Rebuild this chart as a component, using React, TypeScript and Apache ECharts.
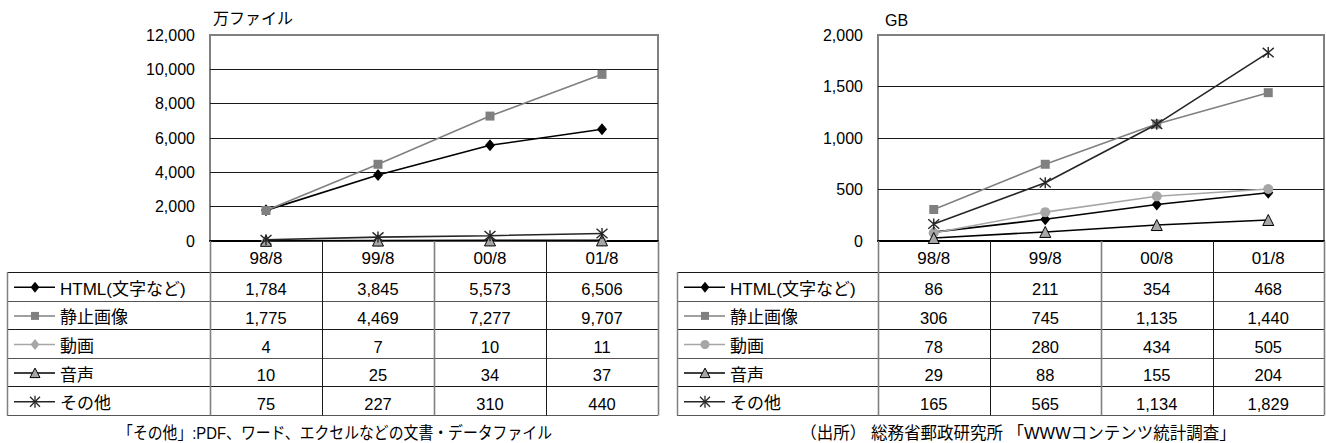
import React, { useEffect, useRef } from 'react';
import * as echarts from 'echarts';

const periods = ['98/8', '99/8', '00/8', '01/8'];
const kindNames = ['HTML(文字など)', '静止画像', '動画', '音声', 'その他'];

// ファイル数（万ファイル）
const filesHtml = [1784, 3845, 5573, 6506];
const filesImage = [1775, 4469, 7277, 9707];
const filesVideo = [4, 7, 10, 11];
const filesAudio = [10, 25, 34, 37];
const filesOther = [75, 227, 310, 440];

// データ量（GB）
const sizeHtml = [86, 211, 354, 468];
const sizeImage = [306, 745, 1135, 1440];
const sizeVideo = [78, 280, 434, 505];
const sizeAudio = [29, 88, 155, 204];
const sizeOther = [165, 565, 1134, 1829];

const filesUnit = '万ファイル';
const sizeUnit = 'GB';
const noteOther = '「その他」:PDF、ワード、エクセルなどの文書・データファイル';
const noteSource = '（出所） 総務省郵政研究所 「WWWコンテンツ統計調査」';

const FONT = "'Liberation Sans', Arial, 'Noto Sans CJK JP', sans-serif";

type Marker = 'diamond' | 'rect' | 'circle' | 'triangle' | 'asterisk';
interface Look {
  marker: Marker;
  line: string;
  fill: string;
  border: string;
  size: number;
}

const looksFor = (videoMarker: Marker): Look[] => [
  { marker: 'diamond', line: '#000000', fill: '#000000', border: '#000000', size: 11 },
  { marker: 'rect', line: '#808080', fill: '#808080', border: '#808080', size: 9 },
  { marker: videoMarker, line: '#a6a6a6', fill: '#a6a6a6', border: '#a6a6a6', size: videoMarker === 'circle' ? 10 : 11 },
  { marker: 'triangle', line: '#000000', fill: '#a6a6a6', border: '#000000', size: 11 },
  { marker: 'asterisk', line: '#262626', fill: '#262626', border: '#262626', size: 11 },
];

const ASTERISK = 'path://M0,0L12,12M12,0L0,12M6,-1L6,13';

interface Panel {
  unit: string;
  values: number[][];
  max: number;
  interval: number;
  gridLeft: number;
  gridWidth: number;
  tableLeft: number;
  looks: Look[];
  note: string;
  noteX: number;
  noteScale: number;
}

const panels: Panel[] = [
  {
    unit: filesUnit,
    values: [filesHtml, filesImage, filesVideo, filesAudio, filesOther],
    max: 12000,
    interval: 2000,
    gridLeft: 210,
    gridWidth: 448,
    tableLeft: 7,
    looks: looksFor('diamond'),
    note: noteOther,
    noteX: 335,
    noteScale: 0.9,
  },
  {
    unit: sizeUnit,
    values: [sizeHtml, sizeImage, sizeVideo, sizeAudio, sizeOther],
    max: 2000,
    interval: 500,
    gridLeft: 878,
    gridWidth: 446,
    tableLeft: 677,
    looks: looksFor('circle'),
    note: noteSource,
    noteX: 1018,
    noteScale: 1,
  },
];

const GRID_TOP = 35;
const GRID_HEIGHT = 206;
const ROW_TOP = 272;
const ROW_H = 28.6;

const fmt = (v: number) => v.toLocaleString('en-US');

function seriesSymbol(l: Look) {
  if (l.marker === 'asterisk') return ASTERISK;
  return l.marker;
}

function markerGraphic(l: Look, cx: number, cy: number): any {
  const s = l.size / 2;
  const base = { silent: true, z: 20 };
  switch (l.marker) {
    case 'diamond':
      return { type: 'polygon', ...base, shape: { points: [[cx, cy - s], [cx + s * 0.8, cy], [cx, cy + s], [cx - s * 0.8, cy]] }, style: { fill: l.fill } };
    case 'rect':
      return { type: 'rect', ...base, shape: { x: cx - 4, y: cy - 4, width: 8, height: 8 }, style: { fill: l.fill } };
    case 'circle':
      return { type: 'circle', ...base, shape: { cx, cy, r: 4.5 }, style: { fill: l.fill } };
    case 'triangle':
      return { type: 'polygon', ...base, shape: { points: [[cx, cy - 5], [cx + 5, cy + 4.5], [cx - 5, cy + 4.5]] }, style: { fill: l.fill, stroke: l.border, lineWidth: 1 } };
    default:
      return {
        type: 'group',
        ...base,
        children: [
          { type: 'line', shape: { x1: cx - 5, y1: cy - 5, x2: cx + 5, y2: cy + 5 }, style: { stroke: l.border, lineWidth: 1.3 } },
          { type: 'line', shape: { x1: cx + 5, y1: cy - 5, x2: cx - 5, y2: cy + 5 }, style: { stroke: l.border, lineWidth: 1.3 } },
          { type: 'line', shape: { x1: cx, y1: cy - 6, x2: cx, y2: cy + 6 }, style: { stroke: l.border, lineWidth: 1.3 } },
        ],
      };
  }
}

export default function App() {
  const ref = useRef<HTMLDivElement>(null);

  useEffect(() => {
    if (!ref.current) return;
    const chart = echarts.init(ref.current, undefined, { renderer: 'svg' });

    const grids = panels.map((p) => ({
      left: p.gridLeft,
      top: GRID_TOP,
      width: p.gridWidth,
      height: GRID_HEIGHT,
      show: true,
      borderColor: '#808080',
      borderWidth: 2,
      backgroundColor: 'transparent',
    }));

    const xAxes = panels.map((_, k) => ({
      type: 'category',
      gridIndex: k,
      data: periods,
      boundaryGap: true,
      axisLine: { lineStyle: { color: '#000', width: 2 } },
      axisTick: { show: false },
      axisLabel: { fontSize: 17, color: '#000', margin: 9, fontFamily: FONT },
      splitLine: { show: false },
    }));

    const yAxes = panels.map((p, k) => {
      const n = Math.round(p.max / p.interval) + 1;
      const colors = Array.from({ length: n }, (_, i) => (i === n - 1 ? '#808080' : '#1a1a1a'));
      return {
        type: 'value',
        gridIndex: k,
        min: 0,
        max: p.max,
        interval: p.interval,
        axisLine: { show: false },
        axisTick: { show: false },
        axisLabel: { fontSize: 16, color: '#000', margin: 15, fontFamily: FONT, formatter: (v: number) => fmt(v) },
        splitLine: { lineStyle: { color: colors, width: 1 } },
      };
    });

    const series: any[] = [];
    panels.forEach((p, k) => {
      p.values.forEach((vals, i) => {
        const l = p.looks[i];
        series.push({
          type: 'line',
          name: kindNames[i],
          xAxisIndex: k,
          yAxisIndex: k,
          data: vals,
          symbol: seriesSymbol(l),
          symbolSize: l.marker === 'diamond' ? [10, 12] : l.size,
          showAllSymbol: true,
          lineStyle: { color: l.line, width: 1.6 },
          itemStyle: {
            color: l.fill,
            borderColor: l.border,
            borderWidth: l.marker === 'asterisk' ? 1.4 : l.marker === 'triangle' ? 1 : 0,
          },
          z: 3 + i,
        });
      });
    });

    chart.setOption({
      animation: false,
      backgroundColor: '#ffffff',
      grid: grids,
      xAxis: xAxes,
      yAxis: yAxes,
      series,
    });

    // Data table under each chart, aligned with the category bands
    const g: any[] = [];
    const hline = (x1: number, x2: number, y: number, stroke = '#1a1a1a', w = 1) =>
      g.push({ type: 'line', silent: true, z: 10, shape: { x1, y1: y, x2, y2: y }, style: { stroke, lineWidth: w } });
    const vline = (x: number, y1: number, y2: number, stroke = '#1a1a1a', w = 1) =>
      g.push({ type: 'line', silent: true, z: 10, shape: { x1: x, y1, x2: x, y2 }, style: { stroke, lineWidth: w } });

    panels.forEach((p, k) => {
      const xs = periods.map((_, j) => chart.convertToPixel({ xAxisIndex: k }, j) as number);
      const step = xs[1] - xs[0];
      const bounds = [xs[0] - step / 2, ...xs.map((x) => x + step / 2)];
      const axisY = chart.convertToPixel({ yAxisIndex: k }, 0) as number;
      const rows = kindNames.length;
      const tableBottom = ROW_TOP + rows * ROW_H;
      const right = bounds[bounds.length - 1];

      for (let r = 0; r <= rows; r++) {
        const y = Math.round(ROW_TOP + r * ROW_H) + 0.5;
        hline(p.tableLeft, right, y, r % 2 === 0 ? '#1a1a1a' : '#555555');
      }
      vline(p.tableLeft + 0.5, ROW_TOP, tableBottom + 0.5, '#808080', 1.5);
      bounds.forEach((b, j) => {
        const x = Math.round(b) + 0.5;
        vline(x, axisY, tableBottom + 0.5, j % 2 === 0 ? '#808080' : '#1a1a1a', j % 2 === 0 ? 1.6 : 1);
      });

      kindNames.forEach((name, i) => {
        const cy = ROW_TOP + (i + 0.5) * ROW_H;
        const l = p.looks[i];
        const lx = p.tableLeft;
        g.push({
          type: 'line', silent: true, z: 15,
          shape: { x1: lx + 7, y1: cy + 1, x2: lx + 48, y2: cy + 1 },
          style: { stroke: l.line, lineWidth: 1.5 },
        });
        g.push(markerGraphic(l, lx + 28, cy + 1));
        g.push({
          type: 'text', silent: true, z: 15,
          x: lx + 53, y: cy + 3,
          style: { text: name, fontSize: 17, fontFamily: FONT, fill: '#000', align: 'left', verticalAlign: 'middle' },
        });
        p.values[i].forEach((v, j) => {
          g.push({
            type: 'text', silent: true, z: 15,
            x: xs[j], y: cy + 3,
            style: { text: fmt(v), fontSize: 16.5, fontFamily: FONT, fill: '#000', align: 'center', verticalAlign: 'middle' },
          });
        });
      });

      g.push({
        type: 'text', silent: true, z: 15,
        x: p.gridLeft + (k === 0 ? 3 : 7), y: k === 0 ? 18 : 20,
        style: { text: p.unit, fontSize: 16, fontFamily: FONT, fill: '#000', align: 'left', verticalAlign: 'middle' },
      });
      g.push({
        type: 'text', silent: true, z: 15,
        x: p.noteX, y: 433, scaleX: p.noteScale, originX: 0, originY: 0,
        style: { text: p.note, fontSize: 16.5, fontFamily: FONT, fill: '#000', align: 'center', verticalAlign: 'middle' },
      });
    });

    chart.setOption({ graphic: { elements: g } });

    return () => chart.dispose();
  }, []);

  return (
    <div
      ref={ref}
      style={{ position: 'fixed', left: 0, top: 0, width: 1326, height: 443, background: '#fff' }}
    />
  );
}
